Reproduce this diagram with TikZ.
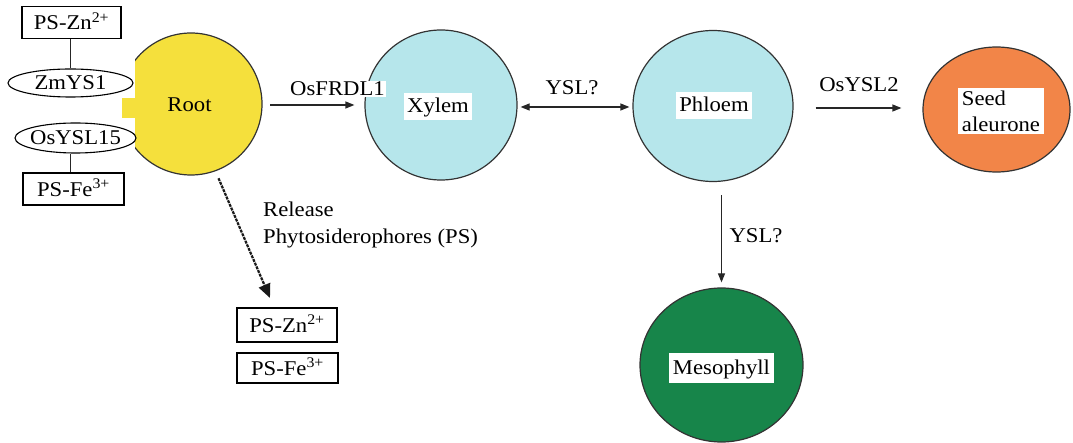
\documentclass[tikz,border=0pt]{standalone}
\usepackage{fontspec}
\setmainfont{Liberation Serif}[FakeStretch=1.08]
\usetikzlibrary{arrows.meta,shapes.geometric,calc}
\definecolor{rootyellow}{HTML}{F5E03C}
\definecolor{vessel}{HTML}{B6E6EB}
\definecolor{seedorange}{HTML}{F28548}
\definecolor{leafgreen}{HTML}{17854A}
\definecolor{rim}{HTML}{333333}

\begin{document}
\begin{tikzpicture}[x=1pt,y=-1pt,
  font=\fontsize{21}{26}\selectfont,
  organ/.style={ellipse, draw=rim, line width=1.2pt, inner sep=0pt},
  tag/.style={fill=white, inner xsep=3pt, inner ysep=3.5pt, text height=16pt, text depth=4pt},
  psbox/.style={draw, line width=1.3pt, fill=white, minimum height=32pt, inner sep=0pt,
                text height=17pt, text depth=2pt},
  carrier/.style={ellipse, draw, line width=1.1pt, fill=white, inner sep=0pt},
  link/.style={line width=1.2pt, draw=black!85},
  tipA/.style={-{Triangle[length=9pt,width=7pt]}},
  arr/.style={link, tipA},
  ]
\useasboundingbox (0,0) rectangle (1073,443);

% ---- root with the left side cut off and a small tab
\node[circle, minimum size=142pt, inner sep=0pt] (root) at (191,104) {};
\begin{scope}
  \clip (135,0) rectangle (300,200);
  \fill[rootyellow] (root.center) circle[radius=71];
  \draw[rim, line width=1.2pt] (root.center) circle[radius=71];
\end{scope}
\fill[rootyellow] (122,98) rectangle (136,118);
\node[anchor=base] (rootT) at (189.5,112) {Root};

% ---- transporters and complexes at the root surface
\node[psbox, minimum width=99pt] (znTop) at (71.5,22.5) {PS-Zn\textsuperscript{2+}};
\node[carrier, minimum width=125pt, minimum height=28pt, label={center:ZmYS1}] (zmys) at (70.5,83) {};
\node[carrier, minimum width=121pt, minimum height=30pt, label={center:OsYSL15}] (osysl) at (75.5,138) {};
\node[psbox, minimum width=101pt] (feTop) at (73.5,189) {PS-Fe\textsuperscript{3+}};
\draw[link] (zmys.north) -- (zmys.north |- znTop.south);
\draw[link] (osysl.south -| zmys.north) -- (feTop.north -| zmys.north);

% ---- tissues
\node[organ, fill=vessel, minimum width=152pt, minimum height=150pt] (xylem) at (441,105) {};
\node[tag] (xylemT) at (438,106.5) {Xylem};
\node[organ, fill=vessel, minimum width=160pt, minimum height=151pt] (phloem) at (713,106) {};
\node[tag] (phloemT) at (714,105.5) {Phloem};
\node[organ, fill=seedorange, minimum width=147pt, minimum height=125pt] (seed) at (996.5,109.5) {};
\node[fill=white, align=left, inner xsep=4pt, inner ysep=3pt] (seedT) at (1001,111) {Seed\\aleurone};
\node[organ, fill=leafgreen, minimum width=163pt, minimum height=154pt] (mes) at (721.5,365) {};
\node[tag, minimum height=30pt, inner xsep=4pt] (mesT) at (721.5,368) {Mesophyll};

% ---- transport steps
\draw[arr, shorten <=8pt, shorten >=10pt] ($(root.east)+(0,1)$) -- ($(xylem.west |- root.east)+(0,1)$);
\node[anchor=base, fill=white, inner sep=1pt] (frdl) at (337.5,96) {OsFRDL1};

\draw[link, {Triangle[length=9pt,width=7pt]}-{Triangle[length=9pt,width=7pt]}, shorten <=3pt, shorten >=3pt]
  ($(xylem.east)+(0,2)$) -- ($(phloem.west |- xylem.east)+(0,2)$);
\node[anchor=base] (yslA) at (572,95) {YSL?};

\draw[arr] ($(phloem.east)+(22,2)$) -- ($(seed.west |- phloem.east)+(-21,2)$);
\node[anchor=base] (osysltwo) at (859,92) {OsYSL2};

\draw[arr, shorten <=13pt, shorten >=5pt] (phloem.south -| mes.north) -- (mes.north);
\node[anchor=base] (yslB) at (756,243) {YSL?};

% ---- phytosiderophore release
\coordinate (relend) at (270,298);
\draw[line width=2.2pt, draw=black!90, dash pattern=on 3pt off 1pt, shorten <=8pt,
      -{Triangle[length=14pt,width=12pt]}] (root.-70) -- (relend);
\node[anchor=base west, inner sep=0pt] (relA) at (263,217) {Release};
\node[anchor=base west, inner sep=0pt] (relB) at (263,244) {Phytosiderophores (PS)};
\node[psbox, minimum width=100pt, minimum height=34pt] (znLow) at (287,325) {PS-Zn\textsuperscript{2+}};
\node[psbox, minimum width=101pt, minimum height=30pt] (feLow) at (287.5,368) {PS-Fe\textsuperscript{3+}};
\end{tikzpicture}
\end{document}
